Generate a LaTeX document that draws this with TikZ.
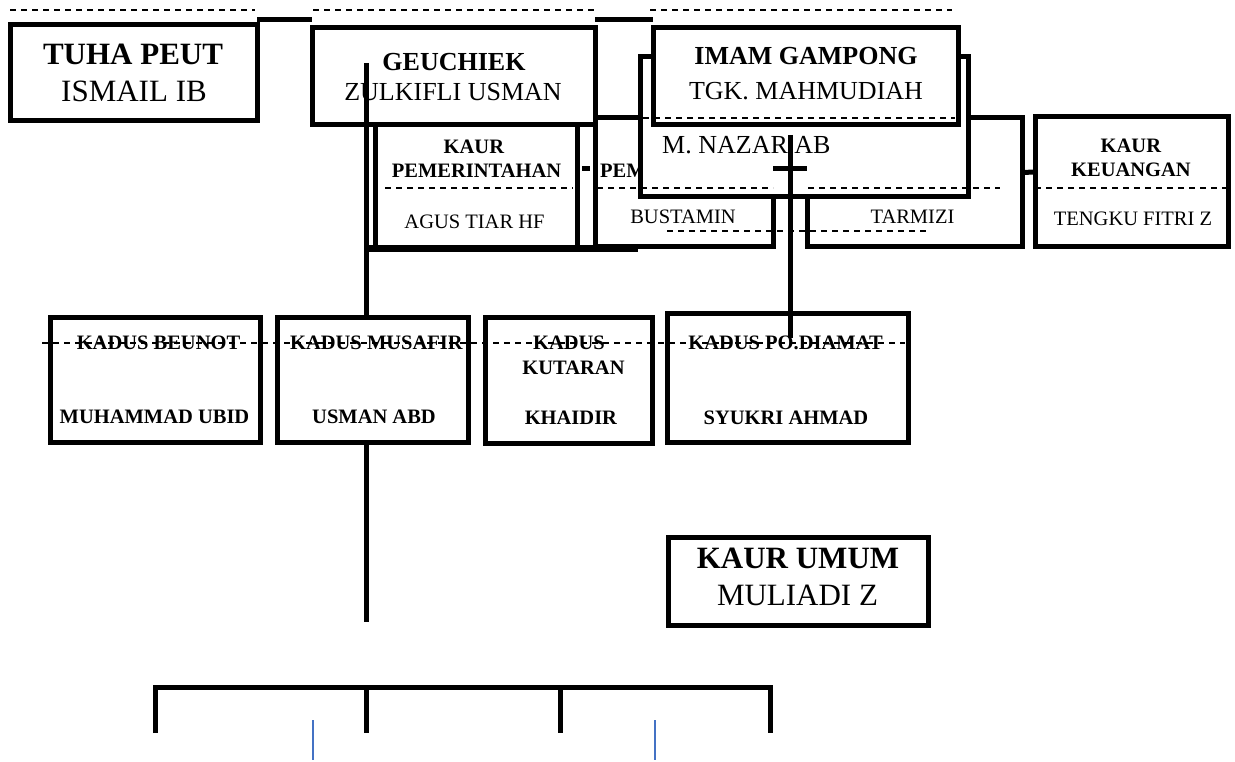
\documentclass[tikz,border=0pt]{standalone}
\usepackage{fontspec}
\setmainfont{Liberation Serif}
\definecolor{garisbiru}{HTML}{4472C4}

\begin{document}
\begin{tikzpicture}[x=1pt, y=-1pt,
    box/.style={draw, line width=5pt, fill=white, inner sep=0pt, outer sep=0pt},
    link/.style={line width=5pt},
    sep/.style={line width=1.3pt, dash pattern=on 6pt off 5pt},
    big/.style={font=\fontsize{31}{34}\selectfont},
    mid/.style={font=\fontsize{26}{30}\selectfont},
    small/.style={font=\fontsize{20.5}{24}\selectfont},
    biru/.style={draw=garisbiru, line width=1.5pt}]
    \useasboundingbox (0,0) rectangle (1235,762);
    % Baris atas
    \node[box, minimum width=247, minimum height=96] (tuha) at (133.5,73) {};
    \node[big] (tuha-jab) at (133,54) {\textbf{TUHA PEUT}};
    \node[big] (tuha-nama) at (134,91) {ISMAIL IB};
    \node[box, minimum width=283, minimum height=97] (geuchiek) at (453.5,76.5) {};
    \node[mid] (geuchiek-jab) at (454,62) {\textbf{GEUCHIEK}};
    \node[mid] (geuchiek-nama) at (453,92) {ZULKIFLI USMAN};
    % Kaur
    \node[box, minimum width=202, minimum height=124] (kaurpem) at (476,187) {};
    \node[small] (kaurpem-a) at (474,147) {\textbf{KAUR}};
    \node[small] (kaurpem-b) at (476.5,171) {\textbf{PEMERINTAHAN}};
    \node[small] (kaurpem-nama) at (474.5,222) {AGUS TIAR HF};
    \node[box, minimum width=178, minimum height=129] (bustamin) at (684,182.5) {};
    \node[small, anchor=west, inner sep=0pt] (kaurpemb-jab) at (600,171) {\textbf{PEM}};
    \node[small] (bustamin-nama) at (683,217) {BUSTAMIN};
    \node[box, minimum width=215, minimum height=129] (tarmizi) at (914.5,182.5) {};
    \node[small] (tarmizi-nama) at (912.5,217) {TARMIZI};
    \node[box, minimum width=328, minimum height=140] (nazar) at (804,127) {};
    \node[mid, anchor=west, inner sep=0pt] (nazar-nama) at (662,145) {M. NAZAR AB};
    \node[box, minimum width=305, minimum height=97] (imam) at (805.5,76.5) {};
    \node[mid] (imam-jab) at (806,56) {\textbf{IMAM GAMPONG}};
    \node[mid] (imam-nama) at (806,91) {TGK. MAHMUDIAH};
    \node[box, minimum width=193, minimum height=130] (keuangan) at (1131.5,182) {};
    \node[small] (keuangan-a) at (1131,146) {\textbf{KAUR}};
    \node[small] (keuangan-b) at (1131,170) {\textbf{KEUANGAN}};
    \node[small] (keuangan-nama) at (1133,219) {TENGKU FITRI Z};
    % Kadus
    \node[box, minimum width=210, minimum height=125] (beunot) at (155,379.5) {};
    \node[small] (beunot-jab) at (158.5,343) {\textbf{KADUS BEUNOT}};
    \node[small] (beunot-nama) at (154.5,417) {\textbf{MUHAMMAD UBID}};
    \node[box, minimum width=191, minimum height=125] (musafir) at (372.5,379.5) {};
    \node[small] (musafir-jab) at (376.5,343) {\textbf{KADUS MUSAFIR}};
    \node[small] (musafir-nama) at (374,417) {\textbf{USMAN ABD}};
    \node[box, minimum width=167, minimum height=126] (kutaran) at (568.5,380) {};
    \node[small] (kutaran-a) at (569,343) {\textbf{KADUS}};
    \node[small] (kutaran-b) at (573.5,368) {\textbf{KUTARAN}};
    \node[small] (kutaran-nama) at (571,418) {\textbf{KHAIDIR}};
    \node[box, minimum width=241, minimum height=129] (podiamat) at (787.5,377.5) {};
    \node[small] (podiamat-jab) at (785.5,343) {\textbf{KADUS PO.DIAMAT}};
    \node[small] (podiamat-nama) at (786,418) {\textbf{SYUKRI AHMAD}};
    % Kaur umum
    \node[box, minimum width=260, minimum height=88] (umum) at (798,581) {};
    \node[big] (umum-jab) at (798,558) {\textbf{KAUR UMUM}};
    \node[big] (umum-nama) at (797.5,595) {MULIADI Z};
    % Garis penghubung
    \coordinate (ytop) at (0,20);
    \coordinate (gdrop) at (366,63);
    \coordinate (gend) at (366,622);
    \coordinate (barend) at (638,249);
    \coordinate (stub) at (586,169);
    \coordinate (ndrop) at (790,135);
    \coordinate (nend) at (790,338);
    \draw[link] (tuha.east |- ytop) -- (geuchiek.west |- ytop);
    \draw[link] (geuchiek.east |- ytop) -- (imam.west |- ytop);
    \draw[link] (gdrop) -- (gdrop |- musafir.north);
    \draw[link] (gdrop |- musafir.south) -- (gend);
    \draw[line width=7pt] (gdrop |- barend) -- (barend);
    \draw[link] ([xshift=-4pt]stub) -- ([xshift=4pt]stub);
    \draw[link] (ndrop) -- (nend);
    \draw[link] (bustamin.east |- stub) -- (tarmizi.west |- stub);
    \draw[link] ([yshift=10pt]tarmizi.east) -- ([yshift=10pt]keuangan.west);
    % Kurung bawah
    \coordinate (brkiri) at (155,687);
    \coordinate (brkanan) at (770,687);
    \draw[link] (155,733) -- (brkiri) -- (brkanan) -- (770,733);
    \foreach \x in {366,560}
        \draw[link] (\x,687) -- (\x,733);
    \foreach \x in {313,655}
        \draw[biru] (\x,720) -- (\x,760);
    % Garis putus-putus
    \draw[sep] (10,10) -- (255,10);
    \draw[sep] (313,10) -- (595,10);
    \draw[sep] (650,10) -- (952,10);
    \draw[sep] (643,118) -- (955,118);
    \draw[sep] (385,188) -- (573,188);
    \draw[sep] (597,188) -- (773,188);
    \draw[sep] (808,188) -- (1000,188);
    \draw[sep] (1035,188) -- (1228,188);
    \draw[sep] (667,231) -- (927,231);
    \draw[sep] (42,343) -- (905,343);
\end{tikzpicture}
\end{document}
